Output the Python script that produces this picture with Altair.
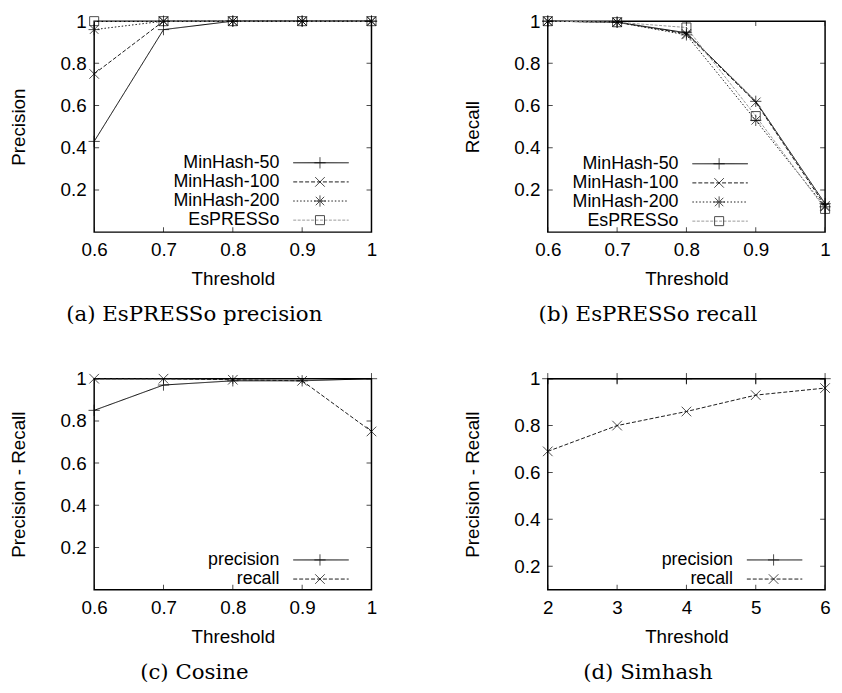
import altair as alt
import pandas as pd

# ---------------- data ----------------
thresholds = [0.6, 0.7, 0.8, 0.9, 1.0]
minhash_names = ["MinHash-50", "MinHash-100", "MinHash-200", "EsPRESSo"]

prec_minhash50 = [0.43, 0.96, 1.0, 1.0, 1.0]
prec_minhash100 = [0.75, 1.0, 1.0, 1.0, 1.0]
prec_minhash200 = [0.96, 1.0, 1.0, 1.0, 1.0]
prec_espresso = [1.0, 1.0, 1.0, 1.0, 1.0]

rec_minhash50 = [1.0, 0.995, 0.945, 0.62, 0.135]
rec_minhash100 = [1.0, 0.995, 0.94, 0.615, 0.125]
rec_minhash200 = [1.0, 0.995, 0.935, 0.53, 0.12]
rec_espresso = [1.0, 0.995, 0.97, 0.55, 0.11]

pr_names = ["precision", "recall"]
cosine_thresholds = [0.6, 0.7, 0.8, 0.9, 1.0]
cosine_precision = [0.85, 0.97, 0.99, 0.99, 1.0]
cosine_recall = [1.0, 1.0, 0.995, 0.99, 0.75]

simhash_thresholds = [2, 3, 4, 5, 6]
simhash_precision = [1.0, 1.0, 1.0, 1.0, 1.0]
simhash_recall = [0.69, 0.80, 0.86, 0.93, 0.96]

unit_ticks = [0.6, 0.7, 0.8, 0.9, 1.0]
simhash_ticks = [2, 3, 4, 5, 6]
y_ticks = [0.2, 0.4, 0.6, 0.8, 1.0]

# ---------------- styles ----------------
FONT = "Liberation Sans"
SERIF = "DejaVu Serif"
FS = 19
W, H = 280, 213
PLUS = "M-1,0L1,0M0,-1L0,1"
CROSS = "M-0.85,-0.85L0.85,0.85M-0.85,0.85L0.85,-0.85"
STAR = "M-1,0L1,0M0,-1L0,1M-0.75,-0.75L0.75,0.75M-0.75,0.75L0.75,-0.75"
SQUARE = "M-0.8,-0.8L0.8,-0.8L0.8,0.8L-0.8,0.8Z"


def long_df(x, names, cols):
    rows = []
    for name, vals in zip(names, cols):
        for xv, yv in zip(x, vals):
            rows.append({"x": xv, "y": yv, "series": name})
    return pd.DataFrame(rows)


def panel(df, names, dashes, strokes, shapes, xdom, ydom, xticks, ytitle,
          caption, leg_x, leg_top):
    xs = alt.Scale(domain=xdom, nice=False, zero=False)
    ys = alt.Scale(domain=ydom, nice=False, zero=False)
    dash = alt.StrokeDash("series:N", scale=alt.Scale(domain=names, range=dashes), legend=None)
    stroke = alt.Stroke("series:N", scale=alt.Scale(domain=names, range=strokes), legend=None)
    shape = alt.Shape("series:N", scale=alt.Scale(domain=names, range=shapes), legend=None)

    xaxis = alt.Axis(values=xticks, format="~g", title="Threshold", labelPadding=9,
                     titlePadding=10, labelFlush=False)
    yaxis = alt.Axis(values=y_ticks, format="~g", title=ytitle, labelPadding=8,
                     titlePadding=32)

    base = alt.Chart(df)
    lines = base.mark_line(strokeWidth=1).encode(
        x=alt.X("x:Q", scale=xs, axis=xaxis),
        y=alt.Y("y:Q", scale=ys, axis=yaxis),
        strokeDash=dash, stroke=stroke,
    )
    points = base.mark_point(filled=False, size=130, strokeWidth=1, color="black").encode(
        x=alt.X("x:Q", scale=xs), y=alt.Y("y:Q", scale=ys), shape=shape,
    )

    tx = pd.DataFrame({"t": xticks})
    ty = pd.DataFrame({"t": y_ticks})
    tick_kw = dict(clip=True, size=10, thickness=1, color="black")
    ticks = [
        alt.Chart(tx).mark_tick(orient="vertical", **tick_kw).encode(
            x=alt.X("t:Q", scale=xs), y=alt.datum(ydom[0])),
        alt.Chart(tx).mark_tick(orient="vertical", **tick_kw).encode(
            x=alt.X("t:Q", scale=xs), y=alt.datum(ydom[1])),
        alt.Chart(ty).mark_tick(orient="horizontal", **tick_kw).encode(
            y=alt.Y("t:Q", scale=ys), x=alt.datum(xdom[0])),
        alt.Chart(ty).mark_tick(orient="horizontal", **tick_kw).encode(
            y=alt.Y("t:Q", scale=ys), x=alt.datum(xdom[1])),
    ]

    leg = alt.Chart(pd.DataFrame({"series": names, "row": list(range(len(names)))})
                    ).transform_calculate(ly=f"{leg_top} + datum.row * 19.3")
    ly = alt.Y("ly:Q", scale=None, axis=None)
    leg_text = leg.mark_text(align="right", baseline="middle", font=FONT, fontSize=18,
                             color="black").encode(x=alt.value(leg_x), y=ly, text="series:N")
    leg_rule = leg.mark_rule(strokeWidth=1).encode(
        x=alt.value(leg_x + 14), x2=alt.value(leg_x + 70), y=ly,
        strokeDash=dash, stroke=stroke)
    leg_pt = leg.mark_point(filled=False, size=130, strokeWidth=1, color="black").encode(
        x=alt.value(leg_x + 41), y=ly, shape=shape)

    return alt.layer(lines, points, *ticks, leg_rule, leg_pt, leg_text).properties(
        width=W, height=H,
        title=alt.TitleParams(caption, orient="bottom", font=SERIF, fontSize=21.5,
                              fontWeight="normal", frame="bounds", anchor="middle",
                              offset=16, color="black"),
    )


mh_dashes = [[1, 0], [4, 2], [1.5, 2], [3, 1.5]]
mh_strokes = ["#000000", "#1a1a1a", "#1a1a1a", "#9a9a9a"]
mh_shapes = [PLUS, CROSS, STAR, SQUARE]

pr_dashes = [[1, 0], [4, 2]]
pr_strokes = ["#000000", "#1a1a1a"]
pr_shapes = [PLUS, CROSS]

df_a = long_df(thresholds, minhash_names,
               [prec_minhash50, prec_minhash100, prec_minhash200, prec_espresso])
df_b = long_df(thresholds, minhash_names,
               [rec_minhash50, rec_minhash100, rec_minhash200, rec_espresso])
df_c = long_df(cosine_thresholds, pr_names, [cosine_precision, cosine_recall])
df_d = long_df(simhash_thresholds, pr_names, [simhash_precision, simhash_recall])

pa = panel(df_a, minhash_names, mh_dashes, mh_strokes, mh_shapes, [0.6, 1.0], [0, 1],
           unit_ticks, "Precision", "(a) EsPRESSo precision", W - 93, H - 70)
pb = panel(df_b, minhash_names, mh_dashes, mh_strokes, mh_shapes, [0.6, 1.0], [0, 1],
           unit_ticks, "Recall", "(b) EsPRESSo recall", W - 148, H - 69)
pc = panel(df_c, pr_names, pr_dashes, pr_strokes, pr_shapes, [0.6, 1.0], [0, 1],
           unit_ticks, "Precision - Recall", "(c) Cosine", W - 93, H - 30)
pd_ = panel(df_d, pr_names, pr_dashes, pr_strokes, pr_shapes, [2, 6], [0.1, 1],
            simhash_ticks, "Precision - Recall", "(d) Simhash", W - 93, H - 30)

ind = dict(x="independent", y="independent", strokeDash="independent",
           stroke="independent", shape="independent")
row1 = alt.hconcat(pa, pb, spacing=82).resolve_scale(**ind)
row2 = alt.hconcat(pc, pd_, spacing=82).resolve_scale(**ind)

chart = alt.vconcat(row1, row2, spacing=42).resolve_scale(**ind).properties(
    padding=0,
).configure_view(stroke="black", strokeWidth=1.5).configure_axis(
    domain=False, ticks=False, tickSize=0, grid=False, labelFont=FONT, labelFontSize=FS,
    titleFont=FONT, titleFontSize=FS, titleFontWeight="normal",
    labelColor="black", titleColor="black",
)

chart.save("out.html", embed_options={"renderer": "svg", "actions": False})
